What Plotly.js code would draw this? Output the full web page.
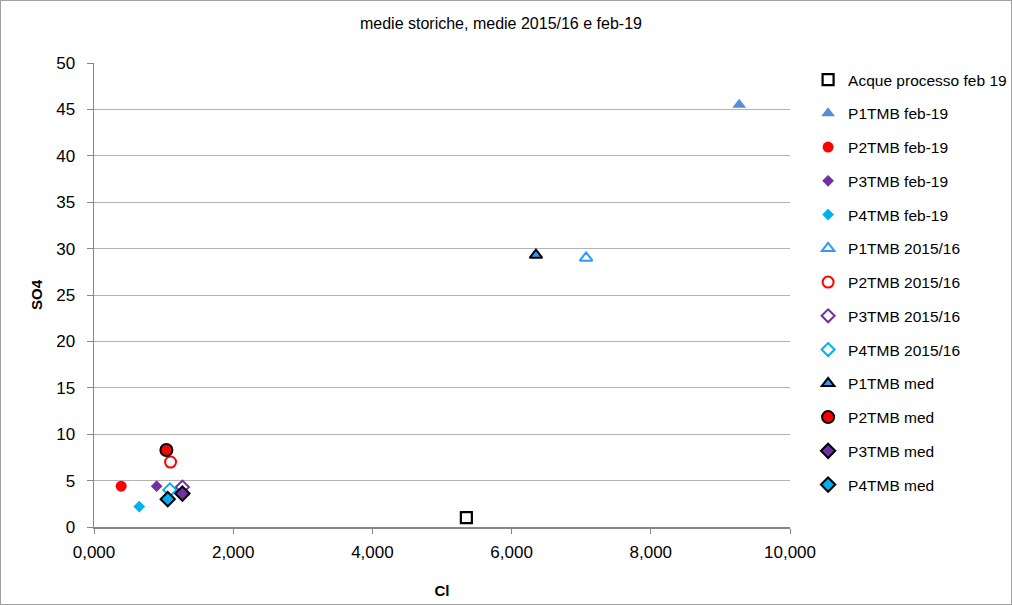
<!DOCTYPE html>
<html><head><meta charset="utf-8">
<script src="https://cdn.plot.ly/plotly-3.0.1.min.js"></script>
<style>html,body{margin:0;padding:0;background:#fff}#c{width:1010px;height:603px;border:1px solid #a0a0a0}</style>
</head><body><div id="c"></div>
<script>
const seriesNames = ["Acque processo feb 19","P1TMB feb-19","P2TMB feb-19","P3TMB feb-19","P4TMB feb-19","P1TMB 2015/16","P2TMB 2015/16","P3TMB 2015/16","P4TMB 2015/16","P1TMB med","P2TMB med","P3TMB med","P4TMB med"];
const clValues  = [5.35, 9.27, 0.39, 0.90, 0.65, 7.07, 1.10, 1.27, 1.09, 6.35, 1.04, 1.27, 1.06];
const so4Values = [1.0, 45.5, 4.4, 4.4, 2.2, 29.0, 7.0, 4.3, 4.0, 29.3, 8.3, 3.6, 3.0];
const xTicks = [0, 2, 4, 6, 8, 10];
const yTicks = [0, 5, 10, 15, 20, 25, 30, 35, 40, 45, 50];

const styles = [
  {symbol:"square-open", color:"#000000", size:11, lw:2.2},
  {symbol:"triangle-up", color:"#558ED5", size:12, lw:0},
  {symbol:"circle", color:"#FF0000", size:11, lw:0},
  {symbol:"diamond", color:"#7030A0", size:9, lw:0},
  {symbol:"diamond", color:"#00B0F0", size:9, lw:0},
  {symbol:"triangle-up-open", color:"#3399FF", size:11, lw:2},
  {symbol:"circle-open", color:"#FF0000", size:11, lw:2},
  {symbol:"diamond-open", color:"#7030A0", size:10, lw:2},
  {symbol:"diamond-open", color:"#00B0F0", size:10, lw:2},
  {symbol:"triangle-up", color:"#3399FF", size:11, lw:2, outline:"#000"},
  {symbol:"circle", color:"#FF0000", size:12, lw:2, outline:"#000"},
  {symbol:"diamond", color:"#7030A0", size:11, lw:2, outline:"#000"},
  {symbol:"diamond", color:"#00B0F0", size:11, lw:2, outline:"#000"}
];

const traces = seriesNames.map((n,i)=>{
  const s = styles[i];
  const m = {symbol:s.symbol, size:s.size, color:s.color};
  if (s.outline) m.line = {color:s.outline, width:s.lw};
  else if (s.symbol.endsWith("open")) m.line = {color:s.color, width:s.lw};
  else m.line = {width:0};
  return {type:"scatter", mode:"markers", name:n, x:[clValues[i]], y:[so4Values[i]], marker:m, legendgroup:"g"+i, cliponaxis:false};
});

const layout = {
  width:1010, height:603,
  margin:{l:93, r:221, t:62, b:77, autoexpand:false},
  paper_bgcolor:"#fff", plot_bgcolor:"#fff",
  separators:",.",
  font:{family:"Liberation Sans, Arial, sans-serif", size:16, color:"#000"},
  title:{text:"medie storiche, medie 2015/16 e feb-19", font:{size:16}, x:0.495, xanchor:"center", y:0.963, yanchor:"middle"},
  xaxis:{range:[0,10], tickvals:xTicks, tickformat:".3f", showgrid:false, showline:true, linecolor:"#868686", linewidth:1.5,
         ticks:"outside", ticklen:5, tickcolor:"#868686", zeroline:false, fixedrange:true, tickfont:{size:17}, ticklabelstandoff:4,
         title:{text:"<b>Cl</b>", font:{size:15}, standoff:24}},
  yaxis:{range:[0,50], tickvals:yTicks, showgrid:true, gridcolor:"#b3b3b3", gridwidth:1, showline:true, linecolor:"#868686", linewidth:1.5,
         ticks:"outside", ticklen:6, tickcolor:"#868686", zeroline:false, fixedrange:true, tickfont:{size:17}, ticklabelstandoff:8,
         title:{text:"<b>SO4</b>", font:{size:15}, standoff:10}},
  showlegend:true,
  legend:{x:1.026, xanchor:"left", y:1.0, yanchor:"top", tracegroupgap:10.6, font:{size:15.5}, bgcolor:"rgba(0,0,0,0)", itemwidth:30},
};
Plotly.newPlot("c", traces, layout, {displayModeBar:false, staticPlot:true});
</script></body></html>
